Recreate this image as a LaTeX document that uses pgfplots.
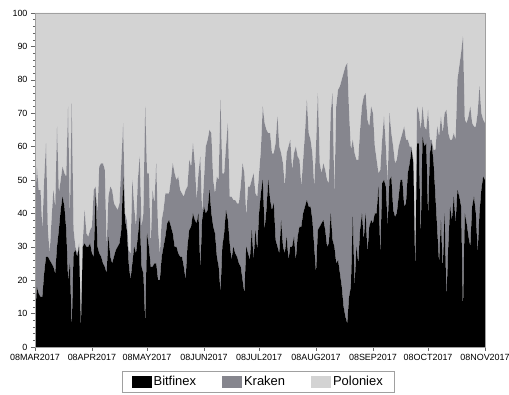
\documentclass[border=0pt]{standalone}
\usepackage{fontspec}
\setmainfont{Liberation Sans}
\usepackage{pgfplots}
\usepackage{pgfplotstable}
\pgfplotsset{compat=1.18}
\definecolor{bitf}{RGB}{0,0,0}
\definecolor{krak}{RGB}{134,134,142}
\definecolor{polo}{RGB}{211,211,211}
\definecolor{framec}{RGB}{160,160,160}
\pgfplotstableread{
d B T
0 7 40
1 18 54
2 16 47
3 15 47
4 15 35
5 22 50
6 27 61
7 27 35
8 26 28
9 25 38
10 24 47
11 22 42
12 30 66
13 35 46
14 41 50
15 45 54
16 42 52
17 35 51
18 20 72
19 25 39
20 5 73
21 28 35
22 29 30
23 27 28
24 30 31
25 5 8
26 30 31
27 31 41
28 30 34
29 30 33
30 31 35
31 28 36
32 27 47
33 46 48
34 30 40
35 28 54
36 27 55
37 25 55
38 24 53
39 22 30
40 33 45
41 27 48
42 25 47
43 27 43
44 29 42
45 30 41
46 31 43
47 35 55
48 51 67
49 38 40
50 35 38
51 25 29
52 20 28
53 25 50
54 30 42
55 28 36
56 33 50
57 39 57
58 24 36
59 22 40
60 7 72
61 34 52
62 30 52
63 24 30
64 24 47
65 25 43
66 25 55
67 20 35
68 20 28
69 27 38
70 30 41
71 33 46
72 37 46
73 38 46
74 36 50
75 34 55
76 30 52
77 30 50
78 28 51
79 27 47
80 27 46
81 24 45
82 20 47
83 30 48
84 35 56
85 36 54
86 40 61
87 38 55
88 37 44
89 40 52
90 23 57
91 38 40
92 42 50
93 40 60
94 41 62
95 47 65
96 40 64
97 36 50
98 34 46
99 27 51
100 24 50
101 16 74
102 30 52
103 34 52
104 41 60
105 38 67
106 31 45
107 26 45
108 30 44
109 28 44
110 27 43
111 25 43
112 24 48
113 20 55
114 16 52
115 30 39
116 28 48
117 26 48
118 35 50
119 26 52
120 35 46
121 29 45
122 40 52
123 46 59
124 50 72
125 35 67
126 41 65
127 50 64
128 44 64
129 41 58
130 43 58
131 32 61
132 30 69
133 28 60
134 38 58
135 30 55
136 28 48
137 33 58
138 26 60
139 30 62
140 30 53
141 33 58
142 26 60
143 33 57
144 36 56
145 36 48
146 40 56
147 42 64
148 44 74
149 42 64
150 42 62
151 38 58
152 30 48
153 22 60
154 35 76
155 36 55
156 37 52
157 38 55
158 35 53
159 30 50
160 31 49
161 40 70
162 32 76
163 30 45
164 25 72
165 26 77
166 22 78
167 18 80
168 12 82
169 9 84
170 7 85
171 15 70
172 18 59
173 39 62
174 18 58
175 30 56
176 25 56
177 35 65
178 40 72
179 32 75
180 40 76
181 28 68
182 36 66
183 38 72
184 37 70
185 40 60
186 40 56
187 48 52
188 27 53
189 49 62
190 50 69
191 48 60
192 36 49
193 50 70
194 51 64
195 41 60
196 39 55
197 40 56
198 45 60
199 50 62
200 50 64
201 42 66
202 43 62
203 52 62
204 55 60
205 59 60
206 55 56
207 22 28
208 61 72
209 61 70
210 32 65
211 63 72
212 60 66
213 61 65
214 39 71
215 58 62
216 61 62
217 55 59
218 45 59
219 35 66
220 25 63
221 38 69
222 23 64
223 40 70
224 14 71
225 30 64
226 42 62
227 38 62
228 45 64
229 37 62
230 47 80
231 45 84
232 42 88
233 10 93
234 40 68
235 37 67
236 33 69
237 30 72
238 42 67
239 45 66
240 40 66
241 28 70
242 40 78
243 47 70
244 51 68
245 50 67
}\data
\begin{document}
\begin{tikzpicture}
\begin{axis}[name=ax, scale only axis, width=450bp, height=334bp,
  xmin=0, xmax=245, ymin=0, ymax=100,
  stack plots=y, area style,
  xtick={0,31,61,92,122,153,184,214,245},
  xticklabels={08MAR2017,08APR2017,08MAY2017,08JUN2017,08JUL2017,08AUG2017,08SEP2017,08OCT2017,08NOV2017},
  ytick={0,10,...,100},
  minor y tick num=4,
  tick align=outside,
  xtick pos=bottom, ytick pos=left,
  axis line style={framec},
  major tick length=4bp, minor tick length=2bp,
  every tick/.style={black!60},
  tick label style={font=\fontsize{9}{10}\selectfont},
  /pgf/number format/assume math mode=true,
  axis on top,
  legend columns=3,
  legend style={at={(0.496,-0.072)}, anchor=north, draw=framec,
    font=\fontsize{13}{15}\selectfont, inner xsep=9bp, inner ysep=3bp,
    /tikz/every even column/.append style={column sep=24bp}},
  legend image code/.code={\fill[#1] (0bp,-6bp) rectangle (20bp,6bp);},
]
\addplot[fill=bitf, draw=none] table[x=d,y=B]{\data} \closedcycle;
\addlegendentry{Bitfinex}
\addplot[fill=krak, draw=none] table[x=d,y expr=\thisrow{T}-\thisrow{B}]{\data} \closedcycle;
\addlegendentry{Kraken}
\addplot[fill=polo, draw=none] table[x=d,y expr=100-\thisrow{T}]{\data} \closedcycle;
\addlegendentry{Poloniex}
\end{axis}
\pgfresetboundingbox
\path ([shift={(-35bp,-48bp)}]ax.south west) rectangle ([shift={(24bp,13bp)}]ax.north east);
\end{tikzpicture}
\end{document}
